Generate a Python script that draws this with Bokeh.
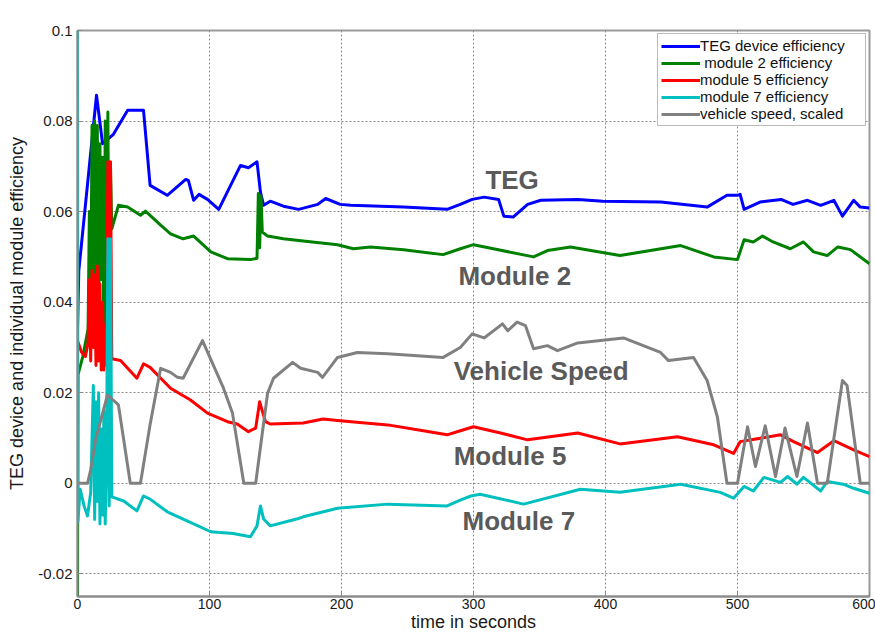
from bokeh.plotting import figure
from bokeh.models import (ColumnDataSource, Legend, LegendItem, FixedTicker,
                          CustomJSTickFormatter, Range1d)
from bokeh.core.properties import value
from bokeh.embed import file_html
from bokeh.resources import INLINE

# ---------------- data ----------------
teg_t = [0, 1, 14.4, 19, 27, 38, 50, 55, 68, 82, 84, 88, 92, 98.5, 107, 123.5, 129.5, 136, 138.6,
         141, 146, 156, 167.5, 182, 188, 199, 207, 247, 280, 290, 299, 308, 319, 323, 330, 341, 351,
         379, 398, 442, 477, 492, 500, 502, 505, 517, 533, 542, 553, 563, 573, 579.5, 588, 593, 600]
teg_v = [0.034, 0.047, 0.0857, 0.075, 0.077, 0.0824, 0.0824, 0.0658, 0.0636, 0.0671, 0.0669, 0.0625,
         0.0638, 0.0627, 0.0605, 0.0702, 0.0697, 0.071, 0.0643, 0.0614, 0.0623, 0.0612, 0.0605, 0.0616,
         0.0629, 0.0616, 0.0614, 0.061, 0.0605, 0.0616, 0.0627, 0.0632, 0.0627, 0.059, 0.0588, 0.0616,
         0.0625, 0.0627, 0.0623, 0.0621, 0.061, 0.0636, 0.0636, 0.0638, 0.0605, 0.0621, 0.0627, 0.0616,
         0.0625, 0.0614, 0.0625, 0.059, 0.0625, 0.061, 0.0608]

m2_t = [0, 0.4, 4, 8, 9, 10, 11, 12, 13, 14, 15, 16, 17, 18, 19, 20, 21, 22, 23, 24, 25, 26, 31, 38,
        47.7, 51.5, 63, 70.5, 80, 88, 101, 113.6, 131, 136, 137, 138, 139, 140, 144, 156, 171, 197,
        209, 222, 247, 277, 290, 300, 315, 345.5, 356, 373.5, 411, 457, 482, 500, 505, 512, 519, 527,
        540, 550, 557.6, 568, 576, 585.6, 600]
m2_v = [-0.025, 0.024, 0.028, 0.034, 0.06, 0.036, 0.079, 0.04, 0.08, 0.035, 0.079, 0.03, 0.075, 0.045,
        0.072, 0.028, 0.08, 0.03, 0.082, 0.035, 0.07, 0.0562, 0.0614, 0.061, 0.0592, 0.0601, 0.057,
        0.0551, 0.054, 0.0546, 0.0511, 0.0496, 0.0494, 0.0497, 0.064, 0.052, 0.0635, 0.0555, 0.0546,
        0.054, 0.0535, 0.0527, 0.0518, 0.0522, 0.0516, 0.0505, 0.0518, 0.0527, 0.0518, 0.05, 0.0514,
        0.0522, 0.0503, 0.0525, 0.05, 0.0494, 0.0538, 0.0533, 0.0546, 0.0533, 0.0518, 0.0533, 0.0511,
        0.0503, 0.0522, 0.0516, 0.0485]

m5_t = [0, 3, 6, 8, 9, 10, 11, 12, 13, 14, 15, 16, 17, 18, 19, 20, 21, 22, 23, 24, 25, 26, 32.6, 45,
        50, 55, 70.5, 85.6, 98.5, 113.6, 121, 129.5, 135, 138, 142.4, 146, 171, 186, 199, 235, 262,
        280, 290, 300, 320.5, 341, 379, 411, 454.5, 482, 497, 502, 532.6, 542.5, 560.6, 573, 588, 600]
m5_v = [0.0315, 0.029, 0.028, 0.031, 0.045, 0.027, 0.047, 0.03, 0.046, 0.026, 0.048, 0.027, 0.044,
        0.025, 0.04, 0.025, 0.035, 0.026, 0.071, 0.04, 0.071, 0.0275, 0.0271, 0.0232, 0.0264, 0.0256,
        0.021, 0.0184, 0.0155, 0.0136, 0.0131, 0.0114, 0.0122, 0.018, 0.0136, 0.0131, 0.0133, 0.0142,
        0.0138, 0.0129, 0.0116, 0.0107, 0.0116, 0.0125, 0.0111, 0.0096, 0.0111, 0.0087, 0.0103, 0.0085,
        0.0066, 0.0092, 0.0107, 0.0092, 0.0068, 0.0094, 0.0074, 0.0059]

m7_t = [0, 0.3, 2, 5, 7.6, 10, 12, 13, 14, 15, 16, 17, 18, 19, 20, 21, 22, 23, 24, 25, 26, 35, 45, 50,
        55, 68, 83, 101, 118, 131, 136, 138.6, 141, 146, 166, 171, 197, 235, 280, 290, 298, 305, 338,
        381, 411, 457, 487, 497, 505, 512, 520, 532.6, 538, 545, 550, 563, 568, 580, 588, 600]
m7_v = [0.1, -0.0085, -0.0013, -0.005, -0.0072, -0.002, 0.0216, -0.008, 0.018, -0.004, 0.02, -0.009,
        0.012, -0.007, 0.016, -0.009, 0.005, 0.054, -0.005, 0.054, -0.003, -0.0039, -0.0061, -0.0028,
        -0.0035, -0.0063, -0.0083, -0.0107, -0.0111, -0.0118, -0.0094, -0.005, -0.0079, -0.0094,
        -0.0079, -0.0074, -0.0055, -0.0046, -0.005, -0.0037, -0.0028, -0.0024, -0.0046, -0.0013,
        -0.002, -0.0002, -0.002, -0.0033, -0.0007, -0.0017, 0.0013, 0.0002, 0.0015, -0.0002, 0.0013,
        -0.0017, 0.0004, -0.0002, -0.0011, -0.0022]

spd_t = [0, 7.6, 10, 14, 22.7, 31, 40, 47.7, 55, 63, 70.5, 75.7, 80, 94.7, 110.6, 117.4, 126, 135,
         144, 148.5, 163, 169, 182, 185.6, 197, 212, 235, 277, 290, 299, 308, 322, 326, 333, 339.4,
         345.5, 356, 363.6, 379, 413.6, 441.7, 447.7, 466.7, 477, 484.8, 492, 500, 507.6, 513.6, 521,
         528.8, 536, 545, 553, 560.6, 568, 579.5, 583, 593, 600]
spd_v = [0, 0, 0.003, 0.01, 0.0195, 0.0173, 0, 0, 0.013, 0.0254, 0.0245, 0.0234, 0.0232, 0.0315,
         0.021, 0.0155, 0, 0, 0.0199, 0.0232, 0.0267, 0.0254, 0.0245, 0.0234, 0.0278, 0.0289, 0.0286,
         0.0278, 0.03, 0.033, 0.0321, 0.0352, 0.0337, 0.0356, 0.0348, 0.0297, 0.0304, 0.0293, 0.031,
         0.0321, 0.0289, 0.0271, 0.0278, 0.0227, 0.0146, 0, 0, 0.0125, 0.0037, 0.0127, 0.0015, 0.0122,
         0.0015, 0.0133, 0, 0, 0.0227, 0.0216, 0, 0]

series_names = ["TEG device efficiency", " module 2 efficiency", "module 5 efficiency",
                "module 7 efficiency", "vehicle speed, scaled"]
series_colors = ["#0000ff", "#008000", "#ff0000", "#00bfbf", "#808080"]

x_ticks = [0, 100, 200, 300, 400, 500, 600]
y_ticks = [-0.02, 0, 0.02, 0.04, 0.06, 0.08, 0.1]

label_text = ["TEG", "Module 2", "Vehicle Speed", "Module 5", "Module 7"]
label_t = [309, 288.6, 285, 285, 291.7]
label_v = [0.0669, 0.0457, 0.0249, 0.0061, -0.0083]

# ---------------- figure ----------------
p = figure(width=875, height=634, output_backend="svg", toolbar_location=None,
           x_range=Range1d(0, 600), y_range=Range1d(-0.025, 0.1),
           min_border_left=77, min_border_right=6, min_border_top=30, min_border_bottom=30)
p.background_fill_color = "white"
p.border_fill_color = "white"
p.outline_line_color = "#9a9a9a"
p.outline_line_width = 2

p.xaxis.ticker = FixedTicker(ticks=x_ticks)
p.yaxis.ticker = FixedTicker(ticks=y_ticks)
p.yaxis.formatter = CustomJSTickFormatter(code="""
    var s = tick.toFixed(2);
    if (s.indexOf('.') >= 0) { s = s.replace(/0+$/, '').replace(/\\.$/, ''); }
    if (s === '-0') { s = '0'; }
    return s;
""")
p.xaxis.axis_label = "time in seconds"
p.yaxis.axis_label = "TEG device and individual module efficiency"
for ax in (p.xaxis[0], p.yaxis[0]):
    ax.axis_line_color = "#8a8a8a"
    ax.axis_line_width = 2
    ax.major_tick_in = 5
    ax.major_tick_out = 0
    ax.major_tick_line_color = "#8a8a8a"
    ax.minor_tick_line_color = None
    ax.major_label_text_font = "Liberation Sans"
    ax.major_label_text_color = "#1a1a1a"
    ax.axis_label_text_font = "Liberation Sans"
    ax.axis_label_text_font_style = "normal"
    ax.axis_label_text_color = "#1a1a1a"
p.xaxis.major_label_text_font_size = "14px"
p.xaxis.major_label_standoff = 2
p.xaxis.axis_label_standoff = 0
p.xaxis.axis_label_text_font_size = "18px"
p.yaxis.major_label_text_font_size = "15px"
p.yaxis.major_label_standoff = 5
p.yaxis.axis_label_standoff = 8
p.yaxis.axis_label_text_font_size = "18px"

p.grid.grid_line_color = "#888888"
p.grid.grid_line_dash = "2 2"
p.grid.grid_line_width = 1

# ---------------- series ----------------
data = [(teg_t, teg_v), (m2_t, m2_v), (m5_t, m5_v), (m7_t, m7_v), (spd_t, spd_v)]
renderers = []
for (tt, vv), col in zip(data, series_colors):
    src = ColumnDataSource(dict(t=tt, v=vv))
    r = p.line("t", "v", source=src, line_color=col, line_width=3, line_join="round")
    renderers.append(r)

# ---------------- in-plot labels ----------------
lab_src = ColumnDataSource(dict(t=label_t, v=label_v, txt=label_text))
p.text("t", "v", text="txt", source=lab_src, text_font=value("Liberation Sans"),
       text_font_style="bold", text_font_size="26px", text_color="#5a5a5a",
       text_baseline="middle", text_align="left")

# ---------------- legend ----------------
legend = Legend(items=[LegendItem(label=n, renderers=[r]) for n, r in zip(series_names, renderers)],
                location="top_right")
legend.margin = 3
legend.padding = 3
legend.spacing = 0
legend.glyph_width = 39
legend.glyph_height = 14
legend.label_height = 14
legend.label_standoff = 0
legend.label_width = 162
legend.label_text_font = "Liberation Sans"
legend.label_text_font_size = "15px"
legend.label_text_color = "#111111"
legend.border_line_color = "#777777"
legend.border_line_width = 1.5
legend.background_fill_alpha = 1
p.add_layout(legend)

open("out.html", "w").write(file_html(p, INLINE))
